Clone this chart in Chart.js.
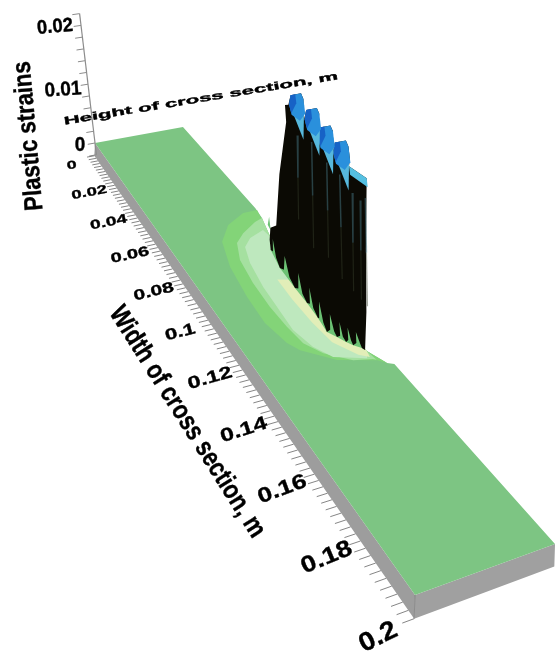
<!DOCTYPE html>
<html>
<head>
<meta charset="utf-8">
<style>
  html, body { margin: 0; padding: 0; background: #fff; }
  canvas { display: block; filter: blur(0.6px); }
</style>
<script src="https://cdn.jsdelivr.net/npm/chart.js@4"></script>
</head>
<body>
<canvas id="strainChart" width="557" height="653"></canvas>
<script>
// axes
const widthMax = 0.2;
const heightMax = 0.05;
const slabBase = -0.0021;
const slabInset = -0.0012;
const widthLabels = ['0', '0.02', '0.04', '0.06', '0.08', '0.1', '0.12', '0.14', '0.16', '0.18', '0.2'];
const widthLabelValues = [0, 0.02, 0.04, 0.06, 0.08, 0.1, 0.12, 0.14, 0.16, 0.18, 0.2];
const strainLabels = ['0', '0.01', '0.02'];
const strainMinorTicks = [-0.002, 0, 0.002, 0.004, 0.006, 0.008, 0.01, 0.012, 0.014, 0.016, 0.018, 0.02, 0.022];

// back edge of the flat surface, it is pushed in around the plastic zone
const edgeWidth = [0.14, 0.139, 0.1331, 0.076, 0.066, 0.06];
const edgeHeight = [0.05, 0.0478, 0.0443, 0.04565, 0.04905, 0.05];

// strain contours on the surface, outer to inner
const outerWidth = [0.0612, 0.0612, 0.0658, 0.0736, 0.0864, 0.101, 0.1132, 0.1228, 0.1266, 0.1334, 0.1372, 0.139, 0.1331, 0.076];
const outerHeight = [0.05, 0.0428, 0.032, 0.0237, 0.0189, 0.0165, 0.0157, 0.0181, 0.0208, 0.0311, 0.0451, 0.0478, 0.0443, 0.04565];
const midWidth = [0.066, 0.0672, 0.0716, 0.0758, 0.0842, 0.0958, 0.1074, 0.1168, 0.1244, 0.1298, 0.135, 0.1364, 0.137, 0.1331, 0.076];
const midHeight = [0.049, 0.0446, 0.0355, 0.0295, 0.0251, 0.023, 0.0222, 0.0227, 0.0239, 0.0282, 0.0367, 0.044, 0.045, 0.0443, 0.0457];
const innerWidth = [0.0722, 0.0748, 0.0786, 0.0866, 0.0986, 0.1082, 0.1186, 0.1266, 0.132, 0.1356, 0.1331, 0.08];
const innerHeight = [0.045, 0.0367, 0.0315, 0.0282, 0.0257, 0.0249, 0.024, 0.0263, 0.0306, 0.0422, 0.0443, 0.046];
const coreWidth = [0.0968, 0.1066, 0.1176, 0.1268, 0.1336, 0.1354, 0.1331, 0.1];
const coreHeight = [0.0336, 0.033, 0.0333, 0.0346, 0.0402, 0.0436, 0.0443, 0.045];

// foot of the wall, the green slits between the spikes show here
const footWidth = [0.079, 0.0828, 0.092, 0.1022, 0.1096, 0.1164, 0.1226, 0.1254, 0.128, 0.1298, 0.1316, 0.1326];
const footHeight = [0.0445, 0.041, 0.0385, 0.03775, 0.03745, 0.03685, 0.0358, 0.0379, 0.0397, 0.04125, 0.0435, 0.044];
const footTop = 0.0036;

// the wall of spikes: crest first, then the toes on the surface from right to left
const crestWidth = [0.075, 0.082, 0.0914, 0.092, 0.105, 0.105, 0.105, 0.105, 0.114, 0.114, 0.114, 0.114, 0.121, 0.121, 0.121, 0.121, 0.129, 0.129, 0.129, 0.129, 0.129, 0.128, 0.137, 0.132, 0.128];
const crestHeight = [0.05, 0.05, 0.05, 0.05, 0.0428, 0.0443, 0.0492, 0.05, 0.0428, 0.0443, 0.0492, 0.05, 0.0428, 0.0443, 0.0492, 0.05, 0.0428, 0.0443, 0.0492, 0.05, 0.05, 0.05, 0.05, 0.05, 0.05];
const crestStrain = [0.001, 0.0101, 0.0195, 0.022, 0.025, 0.0262, 0.0262, 0.0254, 0.0248, 0.026, 0.026, 0.0252, 0.024, 0.02515, 0.02515, 0.0244, 0.0237, 0.0249, 0.0249, 0.0241, 0.02265, 0.0214, 0.0219, 0.012, 0.003];
const toeWidth = [0.1326, 0.1316, 0.1308, 0.1307, 0.1305, 0.1298, 0.1291, 0.1289, 0.1287, 0.128, 0.127, 0.1267, 0.1264, 0.1254, 0.1245, 0.124, 0.1236, 0.1226, 0.1205, 0.1195, 0.1185, 0.1164, 0.114, 0.113, 0.112, 0.1096, 0.1072, 0.1059, 0.1047, 0.1022, 0.099, 0.0971, 0.0952, 0.092, 0.089, 0.0874, 0.0858, 0.0828, 0.0805, 0.079];
const toeHeight = [0.044, 0.0435, 0.0435, 0.0424, 0.0422, 0.04125, 0.0411, 0.0404, 0.0402, 0.0397, 0.0393, 0.0388, 0.0386, 0.0379, 0.0376, 0.037, 0.0366, 0.0358, 0.0362, 0.0361, 0.036, 0.03685, 0.037, 0.037, 0.0371, 0.03745, 0.0375, 0.0376, 0.0376, 0.03775, 0.0379, 0.0381, 0.0382, 0.0385, 0.0392, 0.0397, 0.0401, 0.041, 0.0425, 0.0445];
const toeStrain = [0, 0, 0.0004, 0.0018, 0.0004, 0, 0.0004, 0.002, 0.0004, 0, 0.0004, 0.0022, 0.0004, 0, 0.0005, 0.0026, 0.0005, 0, 0.0006, 0.003, 0.0006, 0, 0.0006, 0.003, 0.0006, 0, 0.0006, 0.003, 0.0006, 0, 0.0006, 0.003, 0.0006, 0, 0.0006, 0.0028, 0.0006, 0, 0.0008, 0.002];

// blue caps on the tall peaks, each runs along the height axis
const capWidth = [0.129, 0.121, 0.114, 0.105];
const capStrain = [0.0249, 0.02515, 0.026, 0.0262];
const capNear = [0.0443, 0.0443, 0.0443, 0.0443];
const shelfWidth = [0.128, 0.137, 0.137, 0.128];
const shelfStrain = [0.0214, 0.0219, 0.0208, 0.0203];

// lighter streaks running down the wall
const streakTopWidth = [0.098, 0.107, 0.115, 0.122, 0.128, 0.132, 0.135];
const streakBottomWidth = [0.092, 0.1, 0.109, 0.116, 0.122, 0.126, 0.129];
const streakTop = [0.019, 0.02, 0.019, 0.019, 0.018, 0.018, 0.019];
const streakBottom = [0.006, 0.004, 0.005, 0.004, 0.004, 0.004, 0.004];

// camera, fitted to the corners of the slab
const cam = { a: 133.8, b: 93.3, c: 95, d: 185, e: -12.3, f: 143, g: -0.4487, h: 0.02906, p: -700, q: -5880 };

function project(w, h, s) {
  const u = w / widthMax, v = h / heightMax;
  const den = cam.g * u + cam.h * v + 1;
  return { x: (cam.a * u + cam.b * v + cam.c + cam.p * s) / den, y: (cam.d * u + cam.e * v + cam.f + cam.q * s) / den };
}

function perspective(w) {
  const den = cam.g * w / widthMax + 1;
  return 1 / (den * den);
}

const marks = [];
function area(points, color) {
  marks.push({ data: points, areaColor: color, borderWidth: 0, pointRadius: 0, showLine: true, fill: false, borderColor: color });
}
function stroke(points, color, lineWidth) {
  marks.push({ data: points, borderWidth: lineWidth, pointRadius: 0, showLine: true, fill: false, borderColor: color, spanGaps: false });
}
function onSurface(ws, hs) {
  return ws.map((w, i) => project(w, hs[i], 0));
}

// slab
area([project(0, 0, 0), project(widthMax, 0, 0), project(widthMax, slabInset, slabBase), project(0, slabInset, slabBase)], '#9d9d9d');
area([project(widthMax, 0, 0), project(widthMax, heightMax, 0), project(widthMax, heightMax + slabInset, slabBase), project(widthMax, slabInset, slabBase)], '#a0a0a0');
stroke([project(widthMax, 0, 0), project(widthMax, slabInset, slabBase)], '#7a7a7a', 0.7);

// flat surface and contours
area([project(0, 0, 0), project(widthMax, 0, 0), project(widthMax, heightMax, 0)].concat(onSurface(edgeWidth, edgeHeight), [project(0, heightMax, 0)]), '#7dc583');
area(onSurface(outerWidth, outerHeight), '#83d478');
area(onSurface(midWidth, midHeight), '#a5e0a0');
area(onSurface(innerWidth, innerHeight), '#bee8be');
area(onSurface(coreWidth, coreHeight), '#e2eeb8');
area(onSurface(footWidth, footHeight).concat(footWidth.map((w, i) => project(w, footHeight[i], footTop)).reverse()), '#6cc274');

// wall
area(crestWidth.map((w, i) => project(w, crestHeight[i], crestStrain[i])).concat(toeWidth.map((w, i) => project(w, toeHeight[i], toeStrain[i]))), '#0b0a04');
streakTopWidth.forEach((w, i) => {
  const midS = (streakTop[i] + streakBottom[i]) / 2;
  const midW = (w + streakBottomWidth[i]) / 2;
  stroke([project(w, heightMax, streakTop[i]), project(midW, heightMax, midS)], 'rgba(60,100,110,0.6)', 1.5);
  stroke([project(midW, heightMax, midS), project(streakBottomWidth[i], heightMax, streakBottom[i])], 'rgba(55,65,45,0.45)', 1.2);
});

// caps, painted from the far peak forward
capWidth.forEach((w, i) => {
  const s = capStrain[i], near = capNear[i];
  const at = (h, drop) => project(w, h, s - drop);
  area([at(near - 0.0006, 0.0016), at(heightMax, 0.0016), at(0.0478, 0.0062)], '#57b8dc');
  area([at(near - 0.0012, 0.0012), at(near, 0), at(heightMax - 0.0008, 0), at(heightMax, 0.0008), at(heightMax, 0.0028), at(0.0472, 0.0036), at(near - 0.0006, 0.0026)], '#2a90dc');
  area([at(near - 0.0012, 0.0012), at(near, 0), at(0.0465, 0), at(0.0465, 0.0012), at(near - 0.0006, 0.0024)], '#1762c6');
});
area(shelfWidth.map((w, i) => project(w, heightMax, shelfStrain[i])), '#55c0e2');

// strain axis
stroke([project(0, 0, strainMinorTicks[0]), project(0, 0, strainMinorTicks[strainMinorTicks.length - 1])], '#8c8c8c', 1.2);
const zTicks = [];
strainMinorTicks.forEach(s => zTicks.push(project(0, 0, s), project(0, -0.004, s), { x: null, y: null }));
stroke(zTicks, '#8c8c8c', 1);

// width axis, a tick every 2 mm
const wTicks = [];
for (let k = 0; k <= 100; k++) {
  const w = k * 0.002;
  wTicks.push(project(w, slabInset, slabBase), project(w, slabInset - 0.004, slabBase), { x: null, y: null });
}
stroke(wTicks, '#777', 0.9);

function placeText(ctx, text, x, y, angle, size, sx, sy) {
  ctx.save();
  ctx.translate(x, y);
  ctx.rotate(angle * Math.PI / 180);
  ctx.scale(sx, sy);
  ctx.font = 'bold ' + size + 'px "Liberation Sans", Arial, sans-serif';
  ctx.textAlign = 'center';
  ctx.textBaseline = 'middle';
  ctx.fillStyle = '#000';
  ctx.strokeStyle = '#000';
  ctx.lineWidth = 0.35;
  ctx.fillText(text, 0, 0);
  ctx.strokeText(text, 0, 0);
  ctx.restore();
}

const areaFill = {
  id: 'areaFill',
  beforeDatasetDraw(chart, args) {
    const ds = chart.data.datasets[args.index];
    if (!ds.areaColor) return;
    const ctx = chart.ctx;
    ctx.save();
    ctx.beginPath();
    args.meta.dataset.path(ctx);
    ctx.closePath();
    ctx.fillStyle = ds.areaColor;
    ctx.fill();
    ctx.restore();
  }
};

const axisText = {
  id: 'axisText',
  afterDatasetsDraw(chart) {
    const ctx = chart.ctx;
    const sx = chart.scales.x, sy = chart.scales.y;
    widthLabels.forEach((label, i) => {
      const w = widthLabelValues[i];
      const k = perspective(w);
      const p = project(w, -0.0125, slabBase);
      placeText(ctx, label, sx.getPixelForValue(p.x) - 2, sy.getPixelForValue(p.y) + 6, -(3 + 7 * k), 5 + 6.4 * k, 1.75 - 0.2 * k, 1);
    });
    const strainAt = [[80, 146, 0, 19], [63, 90, -4, 19], [55, 27, -5, 18.5]];
    strainLabels.forEach((label, i) => {
      const a = strainAt[i];
      placeText(ctx, label, a[0], a[1], a[2], a[3], 1, 1.05);
    });
    placeText(ctx, 'Plastic strains', 29, 136, -95, 23, 0.96, 1.12);
    placeText(ctx, 'Height of cross section, m', 201, 99, -9.4, 11, 2.02, 1);
    placeText(ctx, 'Width of cross section, m', 187, 422, 57.6, 24, 0.92, 1.12);
  }
};

// first dataset is painted last, so flip the painter's list
const chart = new Chart(document.getElementById('strainChart'), {
  type: 'scatter',
  data: { datasets: marks.slice().reverse() },
  options: {
    responsive: false,
    animation: false,
    layout: { padding: 0 },
    plugins: { legend: { display: false }, tooltip: { enabled: false } },
    scales: {
      x: { type: 'linear', min: 0, max: 557, display: false },
      y: { type: 'linear', min: 0, max: 653, reverse: true, display: false }
    }
  },
  plugins: [areaFill, axisText]
});
</script>
</body>
</html>
